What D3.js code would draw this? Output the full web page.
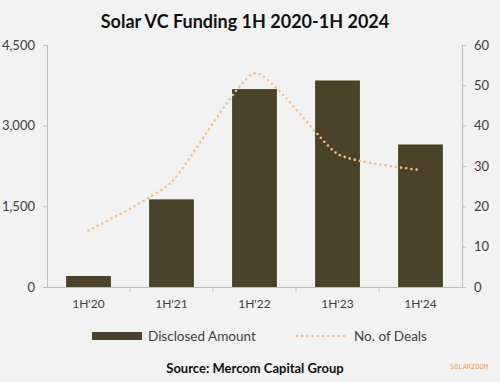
<!DOCTYPE html>
<html><head><meta charset="utf-8">
<script src="https://cdn.jsdelivr.net/npm/d3@7"></script>
<style>html,body{margin:0;padding:0;background:#f2f2f2;}svg{display:block;}</style>
</head><body>
<script>
const categories = ["1H'20","1H'21","1H'22","1H'23","1H'24"];
const disclosedAmount = [205, 1630, 3680, 3840, 2650];
const noOfDeals = [14, 26, 53, 33, 29];
const leftTicks = [0, 1500, 3000, 4500];
const rightTicks = [0, 10, 20, 30, 40, 50, 60];
const title = "Solar VC Funding 1H 2020-1H 2024";
const source = "Source: Mercom Capital Group";

const W = 500, H = 382;
const m = {left: 47, right: 38, top: 45, bottom: 95};
const svg = d3.select("body").append("svg").attr("width", W).attr("height", H)
  .style("font-family", "Lato, 'Open Sans', sans-serif");
svg.append("rect").attr("width", W).attr("height", H).attr("fill", "#f2f2f2");

const x = d3.scaleBand().domain(categories).range([m.left, W - m.right]).paddingInner(0.46).paddingOuter(0.23);
const yL = d3.scaleLinear().domain([0, 4500]).range([H - m.bottom, m.top]);
const yR = d3.scaleLinear().domain([0, 60]).range([H - m.bottom, m.top]);
const axisColor = "#bfbfbf", textColor = "#404040";

// title
svg.append("text").attr("x", 245).attr("y", 28).attr("text-anchor", "middle")
  .attr("font-size", 18).attr("font-weight", "bold").attr("fill", "#111").text(title);

// bars
svg.append("g").selectAll("rect").data(categories).join("rect")
  .attr("x", d => x(d)).attr("width", x.bandwidth())
  .attr("y", (d, i) => yL(disclosedAmount[i]))
  .attr("height", (d, i) => yL(0) - yL(disclosedAmount[i]))
  .attr("fill", "#4b4329");

// left axis
const gL = svg.append("g").attr("transform", `translate(${m.left},0)`)
  .call(d3.axisLeft(yL).tickValues(leftTicks).tickFormat(d3.format(",")).tickSize(4).tickPadding(8));
// right axis
const gR = svg.append("g").attr("transform", `translate(${W - m.right},0)`)
  .call(d3.axisRight(yR).tickValues(rightTicks).tickSize(4).tickPadding(8));
// bottom axis
const edges = categories.map(c => x(c) - x.step() * x.paddingInner() / 2).slice(1);
const gB = svg.append("g").attr("transform", `translate(0,${H - m.bottom})`)
  .call(d3.axisBottom(x).tickSize(0).tickPadding(12));
gB.selectAll(".edge").data(edges).join("line").attr("class", "edge")
  .attr("x1", d => d).attr("x2", d => d).attr("y1", 0).attr("y2", 5).attr("stroke", axisColor);
[gL, gR, gB].forEach(g => {
  g.selectAll("path.domain").attr("stroke", axisColor);
  g.selectAll(".tick line").attr("stroke", axisColor);
  g.selectAll("text").attr("fill", textColor).attr("font-size", 13).style("font-family", "Lato, 'Open Sans', sans-serif");
});
gB.selectAll("text").attr("font-size", 12);

// line
const line = d3.line().x((d, i) => x(categories[i]) + x.bandwidth() / 2).y(d => yR(d))
  .curve(d3.curveCardinal.tension(0.45));
svg.append("path").datum(noOfDeals).attr("d", line).attr("fill", "none")
  .attr("stroke", "#f2bd8c").attr("stroke-width", 2.6).attr("stroke-linecap", "round")
  .attr("stroke-dasharray", "0,5.2");

// legend
const ly = 336;
svg.append("rect").attr("x", 92).attr("y", ly - 4).attr("width", 50).attr("height", 8).attr("fill", "#4b4329");
svg.append("text").attr("x", 148).attr("y", ly + 5).attr("font-size", 13.5).attr("fill", textColor).text("Disclosed Amount");
svg.append("line").attr("x1", 297).attr("x2", 346).attr("y1", ly).attr("y2", ly)
  .attr("stroke", "#f2bd8c").attr("stroke-width", 2.6).attr("stroke-linecap", "round").attr("stroke-dasharray", "0,5.2");
svg.append("text").attr("x", 354).attr("y", ly + 5).attr("font-size", 13.5).attr("fill", textColor).text("No. of Deals");

// source
svg.append("text").attr("x", 255).attr("y", 373).attr("text-anchor", "middle")
  .attr("font-size", 13).attr("font-weight", "bold").attr("fill", "#111").text(source);
svg.append("text").attr("x", 450).attr("y", 369).attr("font-size", 7).attr("fill", "#f0a060")
  .style("font-family", "'DejaVu Sans Mono', monospace").text("SOLARZOOM");
</script>
</body></html>
